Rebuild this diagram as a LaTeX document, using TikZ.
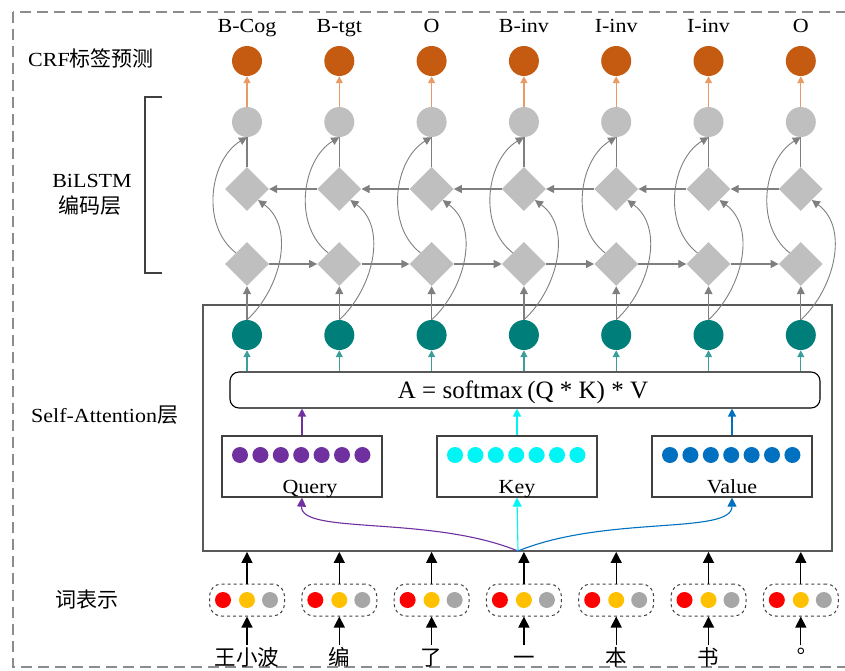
\documentclass[tikz,border=0pt]{standalone}
\usepackage{fontspec}
\setmainfont{Liberation Serif}
\newfontfamily\lblfont[FakeStretch=1.1]{Liberation Serif}
\newfontfamily\cjk{Noto Sans CJK SC}
\newfontfamily\cjktc{Noto Sans CJK TC}
\usetikzlibrary{arrows.meta,shapes.geometric,calc}
\definecolor{crfor}{HTML}{C55A11}
\definecolor{crfline}{HTML}{E99A66}
\definecolor{ngray}{HTML}{BFBFBF}
\definecolor{agray}{HTML}{7F7F7F}
\definecolor{tealc}{HTML}{007F7A}
\definecolor{tealline}{HTML}{3C9E98}
\definecolor{qpur}{HTML}{7030A0}
\definecolor{kcyan}{HTML}{00F5F5}
\definecolor{vblue}{HTML}{0070C0}
\definecolor{dred}{HTML}{FF0000}
\definecolor{dyel}{HTML}{FFC000}
\definecolor{dgray}{HTML}{A6A6A6}
\definecolor{framec}{HTML}{8C8C8C}
\definecolor{boxline}{HTML}{595959}
\definecolor{darkline}{HTML}{404040}
\begin{document}
\begin{tikzpicture}[x=1pt,y=-1pt,
  lbl/.style={font=\fontsize{20}{22}\lblfont, inner sep=0pt, anchor=base},
  lefttxt/.style={font=\fontsize{20}{22}\lblfont, inner sep=0pt, anchor=base west},
  cjktxt/.style={font=\fontsize{21}{23}\cjk, inner sep=0pt},
  crfnode/.style={circle, fill=crfor, minimum size=30pt, inner sep=0pt},
  hnode/.style={circle, fill=ngray, minimum size=30pt, inner sep=0pt},
  dnode/.style={diamond, fill=ngray, minimum width=44pt, minimum height=44pt, inner sep=0pt},
  anode/.style={circle, fill=tealc, minimum size=30pt, inner sep=0pt},
  dotnode/.style={circle, minimum size=16pt, inner sep=0pt},
  oarrow/.style={draw=crfline, line width=1.3pt, -{Triangle[length=7pt,width=7pt]}, color=crfline},
  garrow/.style={draw=agray, line width=1.2pt, -{Triangle[length=8pt,width=8pt]}},
  gcurve/.style={draw=agray, line width=0.9pt, -{Triangle[length=8pt,width=8pt]}},
  tarrow/.style={draw=tealline, line width=1.3pt, -{Triangle[length=7pt,width=7pt]}},
  barrow/.style={draw=black, line width=1.3pt, -{Triangle[length=11pt,width=11pt]}},
  wordbox/.style={draw=darkline, dashed, line width=1pt, rounded corners=12pt, minimum width=75pt, minimum height=32pt, inner sep=0pt},
  vecbox/.style={draw=darkline, line width=1.3pt, minimum width=160pt, minimum height=61pt, inner sep=0pt},
  wordtxt/.style={font=\fontsize{21.5}{23}\selectfont\cjk, inner sep=1pt, text height=18.9pt, text depth=2.6pt}
]
\useasboundingbox (0,0) rectangle (845,670);
\clip (0,0) rectangle (845,670);
% outer dashed frame
\draw[framec, line width=2.2pt, dash pattern=on 11pt off 6pt] (13,12) rectangle (880,667);
% bracket
\draw[darkline, line width=1.5pt] (162,97) -- (145,97) -- (145,273) -- (162,273);
% left labels
\node[lefttxt] (tcrf) at (28,66) {CRF{\fontsize{21}{23}\cjk 标签预测}};
\node[lbl] (tbi) at (92,187) {BiLSTM};
\node[cjktxt] (tenc) at (90,206) {编码层};
\node[lefttxt] (tsa) at (31,422) {Self-Attention{\fontsize{21}{23}\cjk 层}};
\node[cjktxt, anchor=west] (tword) at (55,600) {词表示};
% attention frame
\node[draw=boxline, line width=1.8pt, minimum width=629pt, minimum height=246pt, inner sep=0pt] (att) at (517.5,428) {};
\node[draw=black, line width=1.1pt, rounded corners=9pt, minimum width=590pt, minimum height=36pt, inner sep=0pt] (rr) at (525,390) {};
\node[font=\fontsize{25}{27}\selectfont, inner sep=0pt, anchor=base] (formula) at (523,398) {A = softmax\,(Q * K) * V};
% Q K V boxes
\node[vecbox] (qbox) at (302,466.5) {};
\node[vecbox] (kbox) at (517,466.5) {};
\node[vecbox] (vbox) at (732,466.5) {};
\node[lbl] (qtxt) at (310,493) {Query};
\node[lbl] (ktxt) at (517,493) {Key};
\node[lbl] (vtxt) at (732,493) {Value};
\foreach \k in {0,...,6} {
  \node[dotnode, fill=qpur] (qd\k) at (240+20.4*\k,455) {};
  \node[dotnode, fill=kcyan] (kd\k) at (455+20.4*\k,455) {};
  \node[dotnode, fill=vblue] (vd\k) at (670+20.4*\k,455) {};
}
\coordinate (src) at (518,551);
\draw[qpur, line width=1.1pt, -{Triangle[length=9pt,width=9pt]}] (src) .. controls (430,515) and (300,535) .. (qbox.south);
\draw[kcyan, line width=1.1pt, -{Triangle[length=9pt,width=9pt]}] (src) -- (kbox.south);
\draw[vblue, line width=1.1pt, -{Triangle[length=9pt,width=9pt]}] (src) .. controls (606,515) and (732,535) .. (vbox.south);
\draw[qpur, line width=1.3pt, -{Triangle[length=8pt,width=8pt]}] (qbox.north) -- (qbox.north |- rr.south);
\draw[kcyan, line width=1.3pt, -{Triangle[length=8pt,width=8pt]}] (kbox.north) -- (kbox.north |- rr.south);
\draw[vblue, line width=1.3pt, -{Triangle[length=8pt,width=8pt]}] (vbox.north) -- (vbox.north |- rr.south);
% columns
\foreach \i/\lab/\wtxt in {0/B-Cog/{王小波},1/B-tgt/{编},2/O/{了},3/B-inv/{一},4/I-inv/{本},5/I-inv/{书},6/O/{\raisebox{6pt}{\cjktc 。}}} {
  \pgfmathsetmacro\xx{247+92.3*\i}
  \node[lbl] (l\i) at (\xx,32) {\lab};
  \node[crfnode] (c\i) at (\xx,61) {};
  \node[hnode] (h\i) at (\xx,122) {};
  \node[dnode] (b\i) at (\xx,189) {};
  \node[dnode] (f\i) at (\xx,264) {};
  \node[anode] (a\i) at (\xx,335) {};
  \node[wordbox] (wr\i) at (\xx,600) {};
  \node[dotnode, fill=dred] (rd\i) at (\xx-24,600) {};
  \node[dotnode, fill=dyel] (yd\i) at (\xx,600) {};
  \node[dotnode, fill=dgray] (gd\i) at (\xx+23,600) {};
  \node[wordtxt] (w\i) at (\xx,657) {\wtxt};
  \draw[oarrow] (h\i.north) -- (c\i.south);
  \draw[agray, line width=1.2pt] (b\i.north) -- (h\i.south);
  \draw[garrow] (a\i.north) -- (f\i.south);
  \draw[gcurve] (f\i.north west) .. controls ($(f\i.north west)+(-36,-28)$) and ($(h\i.south)+(-37,22)$) .. (h\i.south);
  \draw[gcurve] (a\i.north) .. controls ($(a\i.north)+(33,-30)$) and ($(b\i.south east)+(38,28)$) .. (b\i.south east);
  \draw[tarrow] (a\i.south |- rr.north) -- (a\i.south);
  \draw[barrow] (wr\i.north) -- (wr\i.north |- att.south);
  \draw[barrow] (w\i.north) -- (wr\i.south);
}
\foreach \i [evaluate=\i as \j using int(\i+1)] in {0,...,5} {
  \draw[garrow] (f\i.east) -- (f\j.west);
  \draw[garrow] (b\j.west) -- (b\i.east);
}
\end{tikzpicture}
\end{document}
